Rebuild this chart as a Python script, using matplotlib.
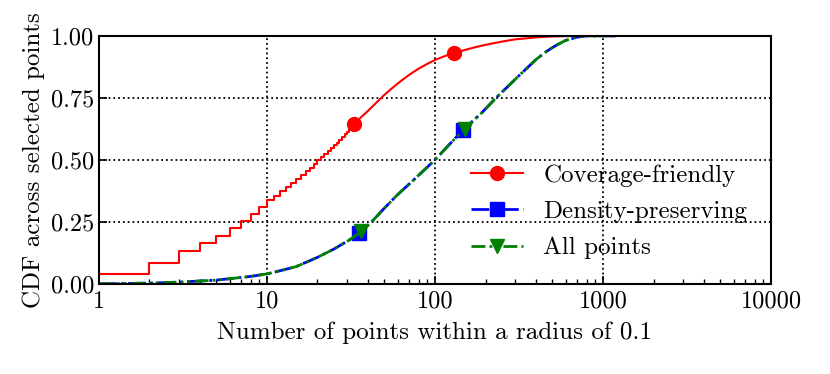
import numpy as np
import matplotlib
matplotlib.use('Agg')
import matplotlib.pyplot as plt
from matplotlib.ticker import FixedLocator, FixedFormatter, LogLocator, NullFormatter

plt.rcParams['font.family'] = ['cmr10', 'DejaVu Serif']
plt.rcParams['axes.formatter.use_mathtext'] = True
plt.rcParams['mathtext.fontset'] = 'cm'

# coverage-friendly: step part at integer counts, then smooth tail
red_step_x = list(range(1, 34))
red_step_y = [0.040, 0.086, 0.133, 0.164, 0.195, 0.227, 0.255, 0.282, 0.312, 0.337,
              0.356, 0.374, 0.392, 0.408, 0.424, 0.439, 0.454, 0.469, 0.484, 0.499,
              0.512, 0.525, 0.537, 0.548, 0.559, 0.570, 0.581, 0.592, 0.603, 0.613,
              0.623, 0.633, 0.645]
red_tail_x = [33, 34, 35, 36, 37, 38, 39, 40, 45, 50, 56, 63, 70, 80, 90, 100, 115, 130,
              150, 175, 200, 250, 300, 400, 500, 700, 1200]
red_tail_y = [0.645, 0.653, 0.661, 0.669, 0.677, 0.684, 0.691, 0.698, 0.732, 0.762, 0.791,
              0.819, 0.842, 0.868, 0.887, 0.903, 0.919, 0.930, 0.943, 0.955, 0.964, 0.977,
              0.986, 0.994, 0.998, 1.0, 1.0]
red_marks = [0, 17]

blue_x = [1, 2, 3, 5, 8, 10, 12.5, 15, 20, 25, 31, 35.5, 42, 50, 60, 75, 100, 125, 147, 190, 231, 320, 400, 460, 520, 600, 700, 800, 1200]
blue_y = [0.0, 0.003, 0.007, 0.015, 0.030, 0.040, 0.056, 0.070, 0.107, 0.140, 0.177, 0.207, 0.250, 0.305,
          0.360, 0.420, 0.500, 0.570, 0.621, 0.690, 0.750, 0.843, 0.905, 0.937, 0.960, 0.982, 0.995, 1.0, 1.0]
blue_marks = [11, 18]

green_x = [1, 2, 3, 5, 8, 10, 12.5, 15, 20, 25, 31, 36.5, 42, 50, 60, 75, 100, 125, 150, 190, 231, 320, 400, 460, 520, 600, 700, 800, 1200]
green_y = [0.0, 0.003, 0.007, 0.015, 0.030, 0.040, 0.056, 0.070, 0.107, 0.140, 0.177, 0.212, 0.250, 0.305,
           0.360, 0.420, 0.500, 0.570, 0.625, 0.690, 0.750, 0.843, 0.905, 0.937, 0.960, 0.982, 0.995, 1.0, 1.0]
green_marks = [11, 18]

x_ticks = [1, 10, 100, 1000, 10000]
y_ticks = [0.0, 0.25, 0.5, 0.75, 1.0]

fig = plt.figure(figsize=(8.3, 3.74), dpi=100)
ax = fig.add_axes([0.119, 0.241, 0.81, 0.663])

ax.plot(red_step_x, red_step_y, color='red', lw=1.5, drawstyle='steps-post')
ax.plot(red_tail_x, red_tail_y, color='red', lw=1.5, marker='o', ms=10,
        markevery=red_marks, label='Coverage-friendly')
ax.plot(blue_x, blue_y, color='blue', lw=2, linestyle='-.', marker='s', ms=10,
        markevery=blue_marks, label='Density-preserving')
ax.plot(green_x, green_y, color='green', lw=2, linestyle=(0, (5, 1.5, 1, 1.5, 1, 1.5)), marker='v', ms=10,
        markevery=green_marks, label='All points')

ax.set_xscale('log')
ax.set_xlim(1, 10000)
ax.set_ylim(0, 1)
ax.xaxis.set_major_locator(FixedLocator(x_ticks))
ax.xaxis.set_major_formatter(FixedFormatter([str(t) for t in x_ticks]))
ax.xaxis.set_minor_locator(LogLocator(base=10, subs=np.arange(2, 10), numticks=20))
ax.xaxis.set_minor_formatter(NullFormatter())
ax.set_yticks(y_ticks)
ax.set_yticklabels(['%.2f' % t for t in y_ticks])

ax.tick_params(axis='both', which='major', direction='in', length=6, width=1.2, labelsize=17.5)
ax.tick_params(axis='x', which='major', pad=5)
ax.tick_params(axis='x', which='minor', direction='in', length=3.5, width=1)
ax.tick_params(axis='y', which='both', right=False)
ax.tick_params(axis='x', which='both', top=False)
for s in ax.spines.values():
    s.set_linewidth(1.5)

ax.grid(True, which='major', color='black', linestyle=':', linewidth=1.3)

ax.set_xlabel('Number of points within a radius of 0.1', fontsize=18, labelpad=6)
ax.set_ylabel('CDF across selected points', fontsize=18)

ax.legend(loc='center left', bbox_to_anchor=(0.52, 0.29), frameon=False, fontsize=18,
          handlelength=2.1, labelspacing=0.55, handletextpad=0.8)

fig.savefig('out.png', dpi=100)
